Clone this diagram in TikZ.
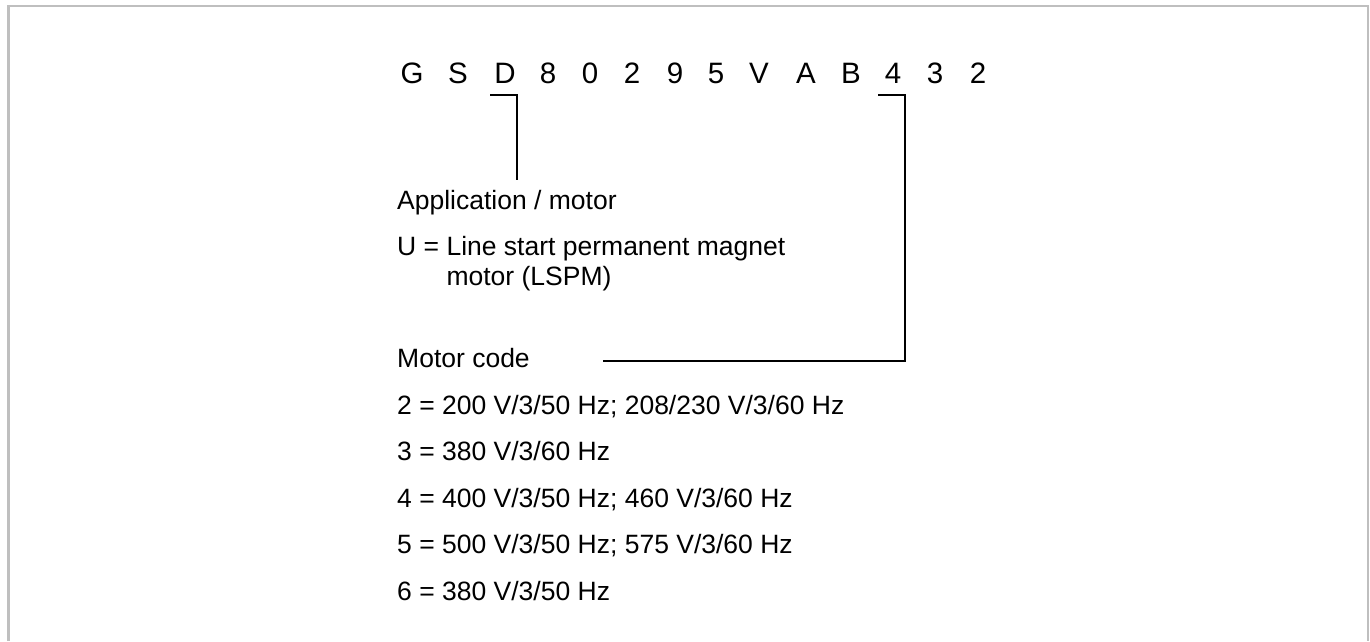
\documentclass[tikz,border=0pt]{standalone}
\usepackage{fontspec}
\setmainfont{Liberation Sans}
\tikzset{
  codechar/.style={anchor=base, inner sep=0pt, font=\fontsize{29.5}{30}\selectfont},
  legend/.style={anchor=base west, inner sep=0pt, font=\fontsize{26.5}{30.5}\selectfont},
  bracket/.style={line width=2pt, black},
  frame/.style={line width=2.5pt, gray!50},
}
\begin{document}
\begin{tikzpicture}[x=1pt, y=-1pt]
  \useasboundingbox (0,0) rectangle (1370,641);
  \draw[frame] (8.5,641) -- (8.5,6) -- (1368,6) -- (1368,641);
  % type designation
  \foreach \x/\c [count=\i] in {412/G, 458/S, 505/D, 548/8, 590/0, 632/2,
      675/9, 716/5, 759/V, 806/A, 851/B, 893/4, 935/3, 978/2}
    \node[codechar] (pos\i) at (\x,83) {\c};
  % explanations
  \node[legend] (appl) at (397,209) {Application / motor};
  \node[legend] (ueq) at (397,255) {U = Line start permanent magnet};
  \node[legend] (ucont) at (397,285) {\hphantom{U = }motor (LSPM)};
  \node[legend] (mcode) at (397,367) {Motor code};
  \foreach \y/\t [count=\i] in {414/{2 = 200 V/3/50 Hz; 208/230 V/3/60 Hz},
      460/{3 = 380 V/3/60 Hz}, 507/{4 = 400 V/3/50 Hz; 460 V/3/60 Hz},
      553/{5 = 500 V/3/50 Hz; 575 V/3/60 Hz}, 600/{6 = 380 V/3/50 Hz}}
    \node[legend] (volt\i) at (397,\y) {\t};
  % brackets
  \coordinate (dfoot) at (517,180);
  \coordinate (mccorner) at (905,361);
  \coordinate (mcend) at (603,361);
  \draw[bracket] ([xshift=-15pt,yshift=-12pt]pos3.base) -| (dfoot);
  \draw[bracket] ([xshift=-15pt,yshift=-12pt]pos12.base) -| (mccorner) -- (mcend);
\end{tikzpicture}
\end{document}
